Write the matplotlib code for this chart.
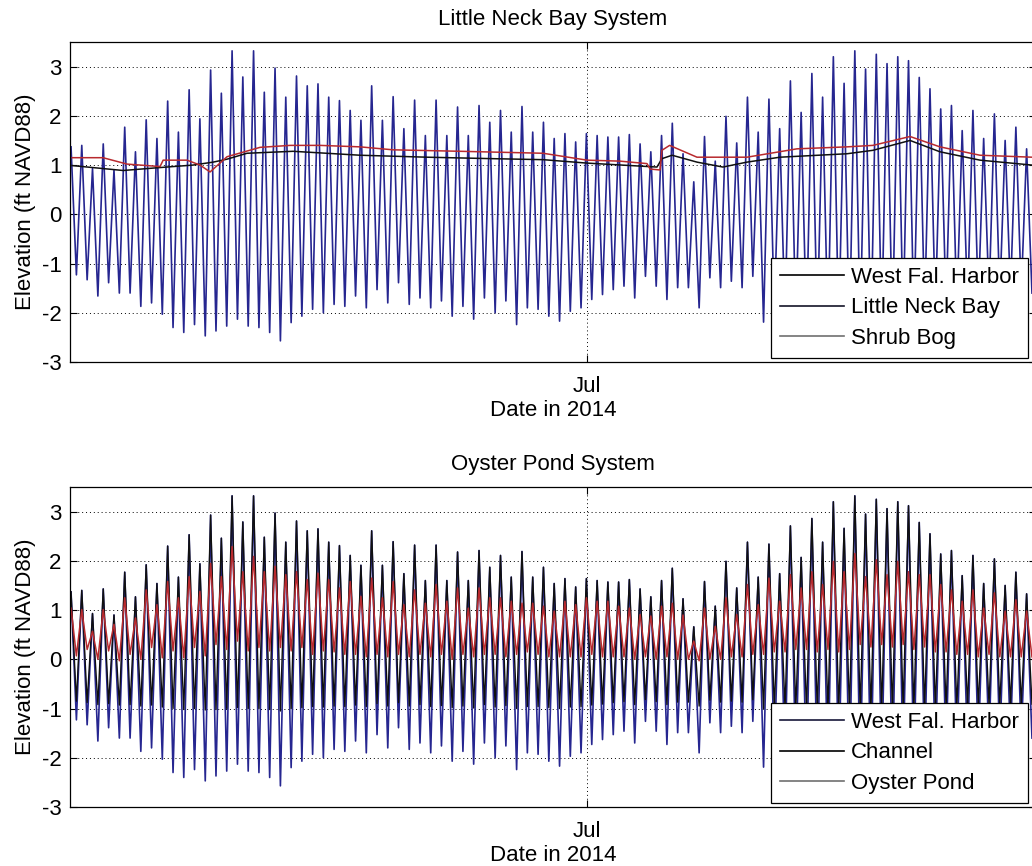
import numpy as np
import matplotlib
matplotlib.use("Agg")
import matplotlib.pyplot as plt
import matplotlib.dates as mdates
from matplotlib.lines import Line2D

plt.rcParams["font.family"] = ["Liberation Sans", "DejaVu Sans"]
plt.rcParams["axes.unicode_minus"] = False

# ---------------------------------------------------------------------------
# Dados
# ---------------------------------------------------------------------------
# tempo: dias a partir de 1 de julho de 2014; preamares espaçadas de meio ciclo M2
T0_DIAS = -24.87
MEIO_CICLO = 0.5175          # dias (12.42 h)

# West Falmouth Harbor: preamares / baixa-mares (ft NAVD88)
wfh_high = [1.37, 1.40, 0.93, 1.43, 0.90, 1.77, 1.27, 1.92, 1.54, 2.30, 1.67, 2.53, 1.94,
            2.93, 2.46, 3.32, 2.79, 3.32, 2.48, 2.97, 2.38, 2.81, 2.61, 2.65, 2.38,
            2.31, 2.11, 1.91, 2.61, 1.91, 2.39, 1.74, 2.32, 1.60, 2.32, 1.60, 2.18,
            1.60, 2.21, 1.87, 2.11, 1.67, 2.19, 1.67, 1.87, 1.54, 1.64, 1.47, 1.64,
            1.60, 1.57, 1.57, 1.62, 1.43, 1.27, 1.60, 1.85, 1.23, 0.66, 1.58, 1.08,
            1.99, 1.45, 2.38, 1.67, 2.34, 1.74, 2.71, 2.07, 2.86, 2.38, 3.20, 2.66,
            3.32, 2.95, 3.25, 3.06, 3.20, 3.12, 2.78, 2.55, 2.14, 2.21, 1.70, 2.11,
            1.54, 2.04, 1.50, 1.77, 1.33]
wfh_low = [-1.23, -1.33, -1.66, -1.39, -1.60, -1.60, -1.87, -1.80, -2.03, -2.30, -2.40, -2.24,
           -2.47, -2.37, -2.27, -2.13, -2.27, -2.30, -2.40, -2.57, -2.20, -2.07, -1.93, -2.00,
           -1.83, -1.87, -1.66, -1.90, -1.53, -1.80, -1.39, -1.83, -1.70, -1.90, -1.76, -2.07,
           -1.87, -2.13, -1.70, -2.00, -1.76, -2.24, -1.90, -1.93, -2.07, -2.17, -1.97, -1.90,
           -1.73, -1.63, -1.53, -1.46, -1.70, -1.26, -1.46, -1.73, -1.49, -1.49, -1.90, -1.29,
           -1.49, -1.36, -1.49, -1.26, -2.19, -2.00, -2.10, -2.20, -2.30, -2.30, -2.40, -2.40,
           -2.50, -2.40, -2.50, -2.30, -2.40, -2.20, -2.20, -2.00, -2.00, -1.90, -1.90, -1.80,
           -1.80, -1.70, -1.70, -1.60, -1.60, -1.60]

# Channel: mesmas preamares, baixa-mares truncadas perto de -1 ft
channel_high = wfh_high
channel_low = [-0.85, -0.88, -0.92, -0.90, -0.93, -0.92, -0.95, -0.93, -0.97, -1.00, -1.02, -1.00,
               -1.03, -1.02, -1.00, -0.98, -1.00, -1.00, -1.02, -1.05, -1.00, -0.98, -0.96, -0.97,
               -0.95, -0.96, -0.93, -0.96, -0.90, -0.95, -0.88, -0.95, -0.92, -0.96, -0.94, -0.98,
               -0.95, -0.99, -0.92, -0.97, -0.94, -1.00, -0.96, -0.96, -0.98, -1.00, -0.97, -0.96,
               -0.93, -0.91, -0.88, -0.86, -0.92, -0.82, -0.86, -0.92, -0.87, -0.87, -0.95, -0.83,
               -0.87, -0.85, -0.87, -0.82, -1.00, -0.98, -1.00, -1.02, -1.03, -1.03, -1.05, -1.05,
               -1.06, -1.05, -1.06, -1.03, -1.05, -1.02, -1.02, -0.99, -0.99, -0.97, -0.97, -0.95,
               -0.95, -0.93, -0.93, -0.91, -0.91, -0.91]

# Oyster Pond
op_high = [1.04, 1.01, 0.57, 1.01, 0.71, 1.25, 0.84, 1.41, 1.11, 1.58, 1.25, 1.68, 1.38,
           1.95, 1.68, 2.29, 1.78, 2.09, 1.78, 1.89, 1.72, 1.78, 1.62, 1.75, 1.62,
           1.45, 1.58, 1.28, 1.65, 1.25, 1.58, 1.11, 1.41, 1.14, 1.52, 1.18, 1.45,
           1.04, 1.45, 1.25, 1.25, 1.18, 1.14, 1.14, 1.08, 0.98, 1.18, 1.11, 1.25,
           1.18, 1.18, 1.08, 1.04, 0.91, 0.88, 1.08, 1.14, 0.90, 0.37, 1.04, 0.67,
           1.25, 0.91, 1.52, 1.11, 1.65, 1.18, 1.72, 1.45, 1.78, 1.52, 1.99, 1.78,
           2.15, 1.68, 2.02, 1.72, 1.99, 1.78, 1.72, 1.72, 1.52, 1.41, 1.18, 1.41,
           1.04, 1.35, 0.98, 1.21, 0.98]
op_low = [0.07, 0.20, 0.00, 0.17, -0.03, 0.10, 0.00, 0.24, 0.03, 0.17, 0.03, 0.24,
          0.07, 0.30, 0.20, 0.37, 0.17, 0.24, 0.17, 0.24, 0.17, 0.24, 0.10, 0.17,
          0.15, 0.10, 0.10, 0.05, 0.10, 0.05, 0.10, 0.05, 0.10, 0.05, 0.10, 0.00,
          0.10, 0.05, 0.10, 0.10, 0.05, 0.10, 0.15, 0.10, 0.05, 0.05, 0.05, 0.05,
          0.10, 0.05, 0.05, 0.05, 0.00, 0.05, 0.00, 0.05, 0.00, 0.00, -0.03, 0.00,
          0.00, 0.05, 0.05, 0.10, 0.10, 0.15, 0.15, 0.20, 0.20, 0.15, 0.20, 0.15,
          0.20, 0.30, 0.25, 0.30, 0.25, 0.30, 0.20, 0.25, 0.15, 0.15, 0.10, 0.10,
          0.05, 0.10, 0.05, 0.05, 0.05, 0.05]

# Little Neck Bay (linha suave) - dias a partir de 1 jul
lnb_dias = [-24.82, -22.36, -20.58, -18.99, -18.02, -17.35, -16.39, -14.17, -10.94, -7.71,
            -4.53, -2.12, 0.00, 3.37, 3.61, 4.10, 5.30, 6.55, 7.71, 9.30, 12.53, 13.78,
            15.57, 17.01, 18.94, 21.45]
lnb_vals = [0.99, 0.89, 0.95, 1.00, 1.06, 1.12, 1.24, 1.28, 1.20, 1.16, 1.13, 1.11, 1.04,
            0.96, 1.13, 1.20, 1.06, 0.96, 1.06, 1.16, 1.23, 1.30, 1.50, 1.27, 1.10, 1.00]

# Shrub Bog
sb_dias = [-24.82, -23.33, -22.17, -20.58, -20.43, -19.28, -18.65, -18.17, -17.35, -15.76,
           -14.31, -12.87, -10.94, -9.35, -6.12, -2.12, 0.00, 1.59, 2.89, 3.04, 3.52, 3.61,
           3.98, 5.30, 7.71, 10.12, 12.53, 13.78, 15.57, 17.01, 18.94, 21.45]
sb_vals = [1.15, 1.15, 1.02, 0.97, 1.10, 1.10, 1.00, 0.86, 1.17, 1.36, 1.40, 1.40, 1.37,
           1.31, 1.28, 1.24, 1.10, 1.08, 1.03, 0.92, 0.90, 1.30, 1.40, 1.16, 1.16, 1.33,
           1.37, 1.40, 1.58, 1.37, 1.20, 1.16]

BASE = np.datetime64("2014-07-01T00:00")


def para_data(dias):
    return BASE + (np.asarray(dias) * 86400).astype("timedelta64[s]")


def serie_mare(altas, baixas):
    n = len(altas)
    dias = T0_DIAS + np.arange(2 * n) * MEIO_CICLO / 2
    vals = np.empty(2 * n)
    vals[0::2] = altas
    vals[1::2] = baixas
    return para_data(dias), vals


# ---------------------------------------------------------------------------
# Figura
# ---------------------------------------------------------------------------
W, H = 1032, 866
fig = plt.figure(figsize=(W / 100, H / 100), dpi=100)
ax1 = fig.add_axes([70 / W, 1 - 362 / H, 966 / W, 320 / H])
ax2 = fig.add_axes([70 / W, 1 - 807 / H, 966 / W, 320 / H])

AZUL = "#262690"
PRETO = "#101010"
VERMELHO = "#b82a2e"

t, v = serie_mare(wfh_high, wfh_low)
ax1.plot(t, v, color=AZUL, lw=1.2)
ax1.plot(para_data(lnb_dias), lnb_vals, color=PRETO, lw=1.1)
ax1.plot(para_data(sb_dias), sb_vals, color=VERMELHO, lw=1.1)

ax2.plot(t, v, color=AZUL, lw=1.2)
tc, vc = serie_mare(channel_high, channel_low)
ax2.plot(tc, vc, color=PRETO, lw=1.0)
to, vo = serie_mare(op_high, op_low)
ax2.plot(to, vo, color=VERMELHO, lw=1.1)

xlim = (para_data(-24.92), para_data(21.64))
leg_h1 = [Line2D([], [], color="black", lw=1.2),
          Line2D([], [], color="#141428", lw=1.2),
          Line2D([], [], color="#707070", lw=1.2)]
leg_h2 = [Line2D([], [], color="#18183a", lw=1.2),
          Line2D([], [], color="black", lw=1.2),
          Line2D([], [], color="#707070", lw=1.2)]

for ax, titulo, nomes, hands in [
        (ax1, "Little Neck Bay System", ["West Fal. Harbor", "Little Neck Bay", "Shrub Bog"], leg_h1),
        (ax2, "Oyster Pond System", ["West Fal. Harbor", "Channel", "Oyster Pond"], leg_h2)]:
    ax.set_xlim(*xlim)
    ax.set_ylim(-3, 3.5)
    ax.set_yticks([-3, -2, -1, 0, 1, 2, 3])
    ax.xaxis.set_major_locator(mdates.MonthLocator())
    ax.xaxis.set_major_formatter(mdates.DateFormatter("%b"))
    ax.tick_params(direction="in", length=5, width=0.8, top=True, right=True,
                   labelsize=16)
    ax.tick_params(axis="x", pad=10)
    ax.tick_params(axis="y", pad=6)
    ax.grid(True, color="black", linestyle=(0, (1, 3)), linewidth=0.7)
    ax.set_title(titulo, fontsize=16, pad=12)
    ax.set_ylabel("Elevation (ft NAVD88)", fontsize=16, labelpad=4)
    ax.set_xlabel("Date in 2014", fontsize=16, labelpad=2)
    for s in ax.spines.values():
        s.set_linewidth(0.9)
    leg = ax.legend(hands, nomes, loc="upper left",
                    bbox_to_anchor=((771 - 70) / 966, (3 - 0.89) / 6.5),
                    fontsize=16, frameon=True, fancybox=False, edgecolor="black",
                    framealpha=1, handlelength=2.9, handletextpad=0.3,
                    labelspacing=0.42, borderpad=0.4, borderaxespad=0)
    leg.get_frame().set_linewidth(0.9)

fig.savefig("out.png", dpi=100, facecolor="white")
